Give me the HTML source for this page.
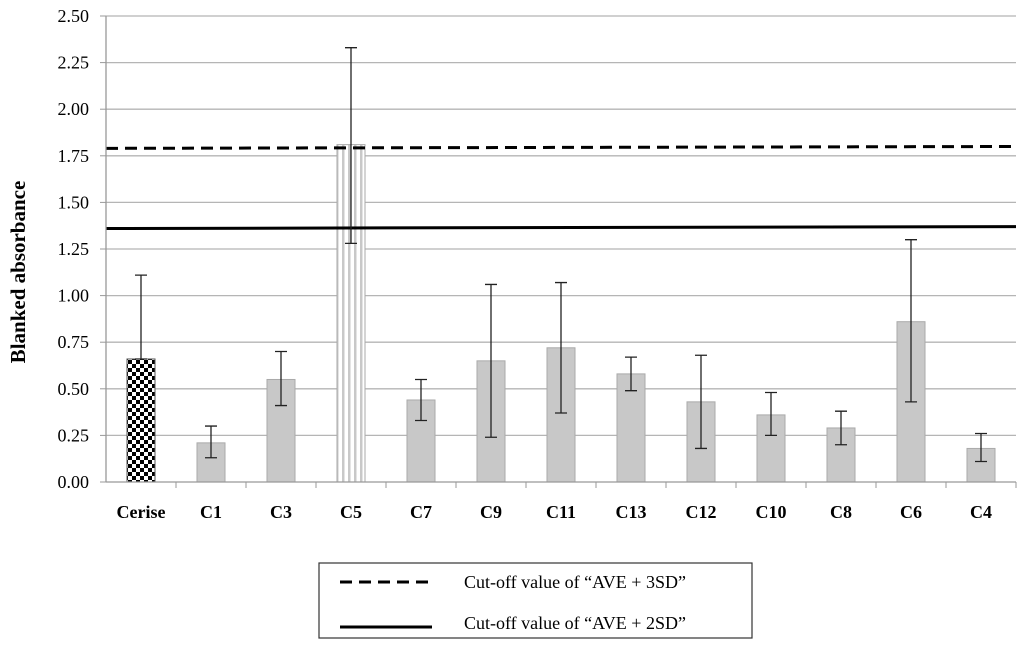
<!DOCTYPE html>
<html><head><meta charset="utf-8"><style>body{margin:0;background:#fff}svg{display:block;font-family:"Liberation Serif",serif}</style></head>
<body>
<svg id="chart" width="1024" height="652" viewBox="0 0 1024 652" xmlns="http://www.w3.org/2000/svg">
<defs>
<pattern id="checker" width="8" height="8" patternUnits="userSpaceOnUse"><rect width="8" height="8" fill="#fff"/><rect width="4" height="4" fill="#000"/><rect x="4" y="4" width="4" height="4" fill="#000"/></pattern>
<pattern id="vstripe" width="6" height="6" patternUnits="userSpaceOnUse"><rect width="6" height="6" fill="#fff"/><rect width="2.5" height="6" fill="#c8c8c8"/></pattern>
</defs>
<g id="grid"></g><g id="bars"></g><g id="lines"></g><g id="errs"></g><g id="axes"></g>
<text transform="translate(25,272) rotate(-90)" text-anchor="middle" font-size="21" font-weight="bold">Blanked absorbance</text>
<g>
<rect x="319" y="563" width="433" height="75" fill="#fff" stroke="#333" stroke-width="1.2"/>
<line x1="340" y1="582" x2="432" y2="582" stroke="#000" stroke-width="3" stroke-dasharray="12,7"/>
<text x="464" y="588" font-size="18">Cut-off value of “AVE + 3SD”</text>
<line x1="340" y1="627" x2="432" y2="627" stroke="#000" stroke-width="3"/>
<text x="464" y="629" font-size="18">Cut-off value of “AVE + 2SD”</text>
</g>
</svg>
<script>
const categories=["Cerise","C1","C3","C5","C7","C9","C11","C13","C12","C10","C8","C6","C4"];
const values=[0.66,0.21,0.55,1.81,0.44,0.65,0.72,0.58,0.43,0.36,0.29,0.86,0.18];
const errUpper=[1.11,0.30,0.70,2.33,0.55,1.06,1.07,0.67,0.68,0.48,0.38,1.30,0.26];
const errLower=[0.66,0.13,0.41,1.28,0.33,0.24,0.37,0.49,0.18,0.25,0.20,0.43,0.11];
const yTicks=["0.00","0.25","0.50","0.75","1.00","1.25","1.50","1.75","2.00","2.25","2.50"];
const cutoff3SD=[1.79,1.80];
const cutoff2SD=[1.36,1.37];
const NS="http://www.w3.org/2000/svg";
const X0=106,X1=1016,Y0=482,YMAX=2.5,PH=466;
const step=(X1-X0)/categories.length;
const y=v=>Y0-v/YMAX*PH;
const xc=i=>X0+step*(i+0.5);
function mk(t,a,p){const e=document.createElementNS(NS,t);for(const k in a)e.setAttribute(k,a[k]);p.appendChild(e);return e;}
const grid=document.getElementById('grid'),bars=document.getElementById('bars'),lines=document.getElementById('lines'),errs=document.getElementById('errs'),axes=document.getElementById('axes');
yTicks.forEach(t=>{const v=parseFloat(t);
 if(v>0){const g=mk('line',{x1:X0,x2:X1,y1:y(v),y2:y(v),stroke:'#b5b5b5','stroke-width':1.3},grid);
 
 }
 const tk=mk('line',{x1:X0-6,x2:X0,y1:y(v),y2:y(v),stroke:'#999'},axes);
 
 
 const tx=mk('text',{x:89,y:y(v)+6,'text-anchor':'end','font-size':18},axes);tx.textContent=t;
 
 
});
categories.forEach((c,i)=>{
 const fill=i===0?'url(#checker)':(c==='C5'?'url(#vstripe)':'#c8c8c8');
 const b=mk('rect',{x:xc(i)-14,y:y(values[i]),width:28,height:Y0-y(values[i]),fill:fill,stroke:i===0?'#555':'#aaa','stroke-width':1},bars);
 
 
 const e=mk('path',{d:`M${xc(i)},${y(errUpper[i])}V${y(errLower[i])}M${xc(i)-6},${y(errUpper[i])}h12M${xc(i)-6},${y(errLower[i])}h12`,stroke:'#222','stroke-width':1.3,fill:'none'},errs);
 
 
 const l=mk('text',{x:xc(i),y:518,'text-anchor':'middle','font-size':18,'font-weight':'bold'},axes);l.textContent=c;
 
 
 const tk=mk('line',{x1:X0+step*(i+1),x2:X0+step*(i+1),y1:Y0,y2:Y0+6,stroke:'#999'},axes);
 
 
});
const d3=mk('line',{x1:X0,x2:X1,y1:y(cutoff3SD[0]),y2:y(cutoff3SD[1]),stroke:'#000','stroke-width':3,'stroke-dasharray':'12,7'},lines);


const d2=mk('line',{x1:X0,x2:X1,y1:y(cutoff2SD[0]),y2:y(cutoff2SD[1]),stroke:'#000','stroke-width':3},lines);


const ya=mk('line',{x1:X0,x2:X0,y1:y(2.5),y2:Y0,stroke:'#999','stroke-width':1.3},axes);


const xa=mk('line',{x1:X0,x2:X1,y1:Y0,y2:Y0,stroke:'#999','stroke-width':1.3},axes);


</script>
</body></html>
